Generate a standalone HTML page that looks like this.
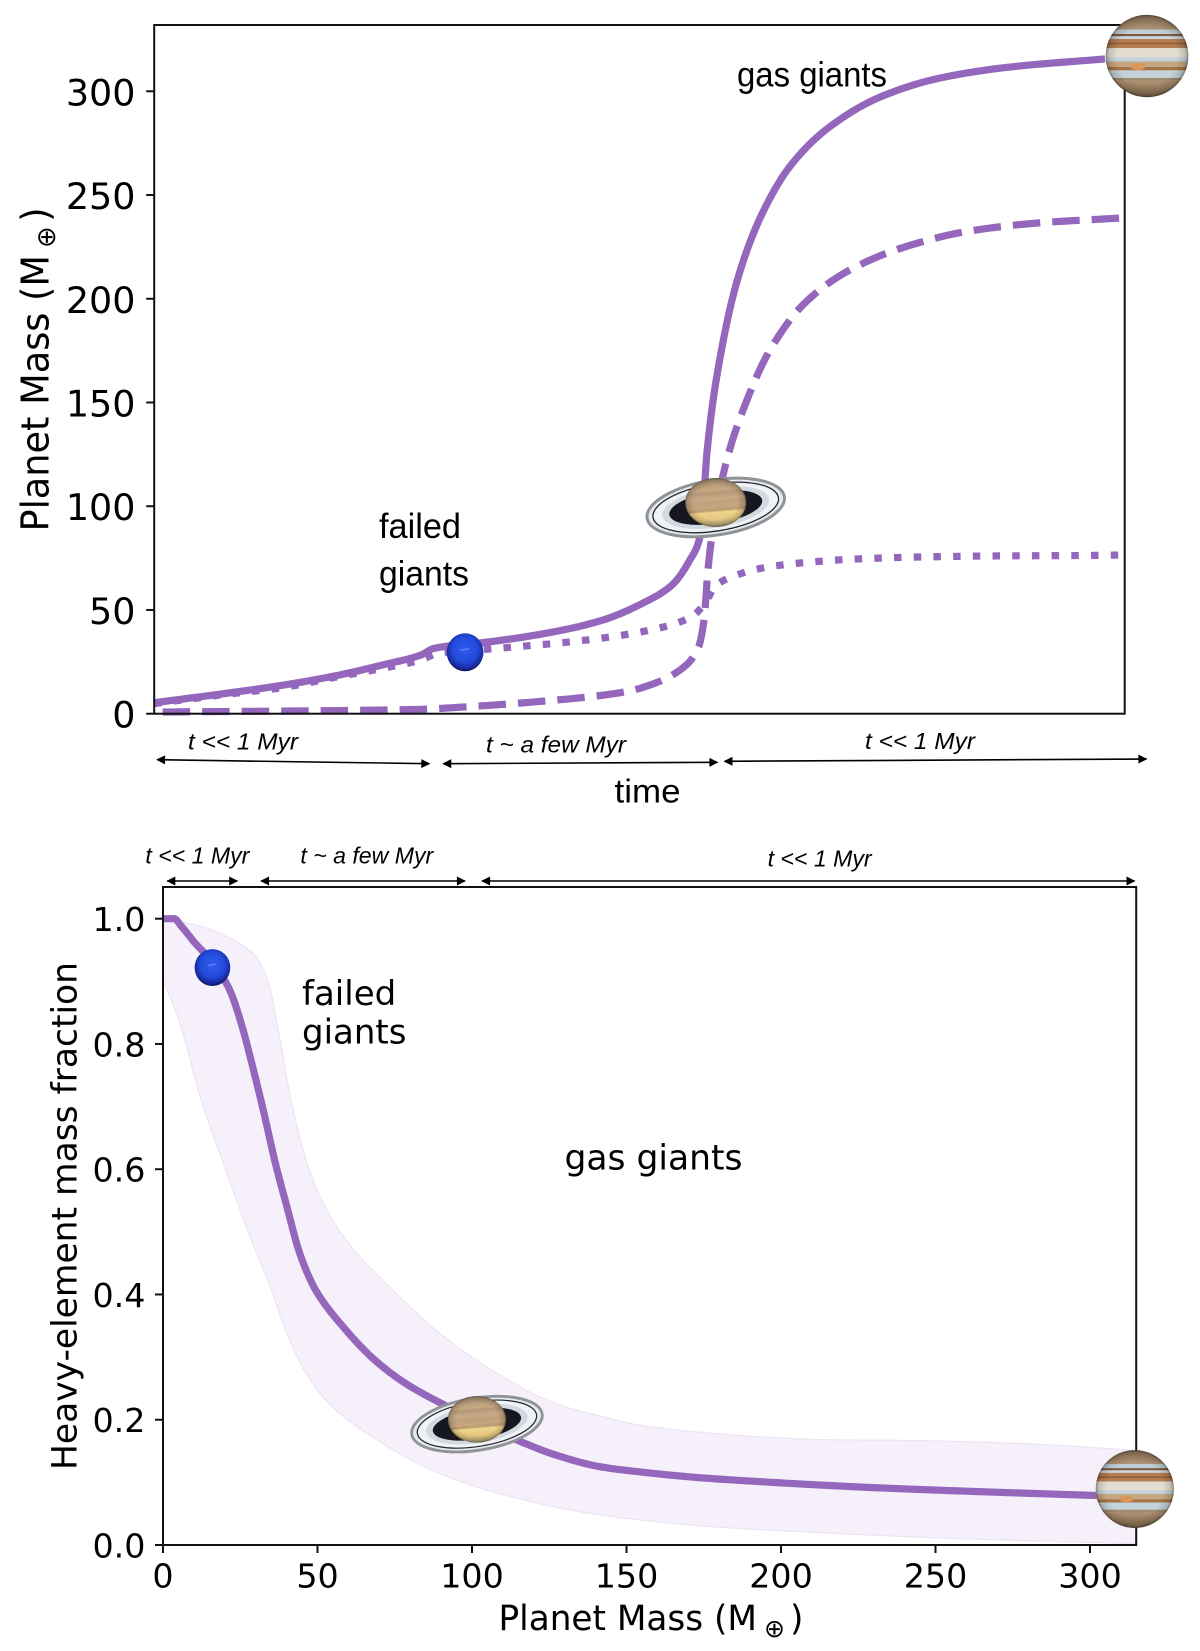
<!DOCTYPE html>
<html lang="en">
<head>
<meta charset="utf-8">
<title>Planet mass growth and heavy-element fraction</title>
<style>
html,body{margin:0;padding:0;background:#fff;}
body{width:1200px;height:1651px;overflow:hidden;}
svg{display:block;}
.dj{font-family:"DejaVu Sans",sans-serif;fill:#000;}
.lib{font-family:"Liberation Sans",sans-serif;fill:#000;}
.it{font-family:"Liberation Sans",sans-serif;font-style:italic;fill:#000;font-size:23px;}
</style>
</head>
<body>
<svg id="figure" xmlns="http://www.w3.org/2000/svg" width="1200" height="1651" viewBox="0 0 1200 1651">
  <defs>
    <marker id="ah" viewBox="0 0 10 10" refX="9" refY="5" markerUnits="userSpaceOnUse" markerWidth="10" markerHeight="9" orient="auto-start-reverse">
      <path d="M0 0L10 5L0 10Z" fill="#000"/>
    </marker>
    <clipPath id="clip-bottom"><rect x="163" y="887" width="973.2" height="658"/></clipPath>
    <radialGradient id="nep-grad" cx="50%" cy="42%" r="58%">
      <stop offset="0" stop-color="#2f5cf0"/>
      <stop offset="0.6" stop-color="#2349d8"/>
      <stop offset="0.88" stop-color="#16289a"/>
      <stop offset="1" stop-color="#0c1450"/>
    </radialGradient>
    <linearGradient id="sat-grad" x1="0" y1="0" x2="0" y2="1" gradientTransform="rotate(-6 0.5 0.5)">
      <stop offset="0" stop-color="#9c8a72"/>
      <stop offset="0.12" stop-color="#b69a78"/>
      <stop offset="0.24" stop-color="#c7a884"/>
      <stop offset="0.3" stop-color="#b59a78"/>
      <stop offset="0.42" stop-color="#c9aa88"/>
      <stop offset="0.5" stop-color="#bda07c"/>
      <stop offset="0.6" stop-color="#c8a67e"/>
      <stop offset="0.66" stop-color="#b89a70"/>
      <stop offset="0.7" stop-color="#efd48c"/>
      <stop offset="0.84" stop-color="#e4c680"/>
      <stop offset="1" stop-color="#a59870"/>
    </linearGradient>
    <radialGradient id="shade" cx="50%" cy="50%" r="50%">
      <stop offset="0.72" stop-color="#000" stop-opacity="0"/>
      <stop offset="0.93" stop-color="#000" stop-opacity="0.15"/>
      <stop offset="1" stop-color="#000" stop-opacity="0.42"/>
    </radialGradient>
    <linearGradient id="jup-base" x1="0" y1="0" x2="0" y2="1">
      <stop offset="0" stop-color="#8f7358"/>
      <stop offset="0.2" stop-color="#b39676"/>
      <stop offset="0.8" stop-color="#ad9070"/>
      <stop offset="1" stop-color="#7c644c"/>
    </linearGradient>
    <clipPath id="jup-clip"><ellipse cx="0" cy="0" rx="41.3" ry="41.2"/></clipPath>
    <g id="neptune-art">
      <ellipse cx="0" cy="0" rx="18.4" ry="19" fill="url(#nep-grad)"/>
      <path d="M-5 -2Q0 -3 4 -3.500" stroke="#6f90f0" stroke-width="1" fill="none"/>
    </g>
    <g id="saturn-art">
      <ellipse cx="0" cy="0" rx="69.500" ry="27.500" transform="rotate(-9)" fill="#e6eaee" stroke="#8f9398" stroke-width="3"/>
      <ellipse cx="0" cy="0" rx="63.500" ry="23.500" transform="rotate(-9)" fill="#f0f3f6" stroke="#23262d" stroke-width="1.300"/>
      <ellipse cx="0" cy="0" rx="54" ry="20" transform="rotate(-9)" fill="#d3d9e0"/>
      <ellipse cx="0" cy="0" rx="47" ry="16" transform="rotate(-9)" fill="#17171f"/>
      <ellipse cx="0" cy="-5" rx="30.500" ry="24.500" fill="url(#sat-grad)"/>
      <ellipse cx="0" cy="-5" rx="30.500" ry="24.500" fill="url(#shade)"/>
    </g>
    <g id="jupiter-art">
      <g clip-path="url(#jup-clip)">
        <rect x="-42" y="-42" width="84" height="84" fill="url(#jup-base)"/>
        <rect x="-42" y="-26.500" width="84" height="4.500" fill="#bfced6"/>
        <rect x="-42" y="-22" width="84" height="2.200" fill="#7d5b40"/>
        <rect x="-42" y="-19.800" width="84" height="2.800" fill="#cdd7db"/>
        <rect x="-42" y="-17" width="84" height="9" fill="#b47e50"/>
        <rect x="-42" y="-13.500" width="84" height="2" fill="#9a6238"/>
        <rect x="-42" y="-8" width="84" height="9.500" fill="#e3ddd1"/>
        <rect x="-42" y="1.500" width="84" height="4" fill="#c4d2dc"/>
        <rect x="-42" y="5.500" width="84" height="9" fill="#c6a680"/>
        <rect x="-42" y="11" width="84" height="3" fill="#a37448"/>
        <rect x="-42" y="14.500" width="84" height="7.500" fill="#c4d3db"/>
        <rect x="-42" y="22" width="84" height="2" fill="#a08a70"/>
        <ellipse cx="-9" cy="10.500" rx="7.500" ry="3.500" fill="#d9975a"/>
      </g>
      <ellipse cx="0" cy="0" rx="41.300" ry="41.200" fill="url(#shade)"/>
    </g>
  </defs>

  <g id="top-chart">
    <g id="top-series"></g>
    <rect x="154.200" y="25" width="970.500" height="688.700" fill="none" stroke="#111" stroke-width="2"/>
    <g id="top-ticks"></g>
    <g id="top-planets"></g>
    <text class="dj" font-size="38" transform="translate(48.500 531.500) rotate(-90)" textLength="276.500" lengthAdjust="spacingAndGlyphs">Planet Mass (M</text>
    <text class="dj" font-size="26" transform="translate(55 248) rotate(-90)">⊕</text>
    <text class="dj" font-size="38" transform="translate(48.500 222) rotate(-90)">)</text>
    <text class="lib" font-size="35" x="737" y="86.700" textLength="150" lengthAdjust="spacingAndGlyphs">gas giants</text>
    <text class="lib" font-size="35" x="379" y="538" textLength="82" lengthAdjust="spacingAndGlyphs">failed</text>
    <text class="lib" font-size="35" x="379" y="585.700" textLength="90" lengthAdjust="spacingAndGlyphs">giants</text>
    <text class="it" x="188" y="749.300" textLength="110" lengthAdjust="spacingAndGlyphs">t &lt;&lt; 1 Myr</text>
    <text class="it" x="486" y="752.300" textLength="140" lengthAdjust="spacingAndGlyphs">t ~ a few Myr</text>
    <text class="it" x="865" y="749" textLength="110" lengthAdjust="spacingAndGlyphs">t &lt;&lt; 1 Myr</text>
    <line x1="157" y1="759.700" x2="429.400" y2="763.700" stroke="#000" stroke-width="1.600" marker-start="url(#ah)" marker-end="url(#ah)"/>
    <line x1="443.200" y1="763.700" x2="717.500" y2="762.300" stroke="#000" stroke-width="1.600" marker-start="url(#ah)" marker-end="url(#ah)"/>
    <line x1="724.400" y1="761.300" x2="1146.500" y2="759" stroke="#000" stroke-width="1.600" marker-start="url(#ah)" marker-end="url(#ah)"/>
    <text class="lib" font-size="33" x="614.500" y="802.700" textLength="66" lengthAdjust="spacingAndGlyphs">time</text>
  </g>

  <g id="bottom-chart">
    <g id="bottom-series" clip-path="url(#clip-bottom)"></g>
    <rect x="163" y="887" width="973.200" height="658" fill="none" stroke="#111" stroke-width="2"/>
    <g id="bottom-ticks"></g>
    <g id="bottom-planets"></g>
    <text class="dj" font-size="34.500" transform="translate(76.500 1470) rotate(-90)" textLength="508" lengthAdjust="spacingAndGlyphs">Heavy-element mass fraction</text>
    <text class="dj" font-size="34.500" x="498.500" y="1630" textLength="258.500" lengthAdjust="spacingAndGlyphs">Planet Mass (M</text>
    <text class="dj" font-size="25" x="764" y="1637">⊕</text>
    <text class="dj" font-size="34.500" x="790" y="1630">)</text>
    <text class="dj" font-size="34" x="302" y="1005">failed</text>
    <text class="dj" font-size="34" x="302" y="1043.300">giants</text>
    <text class="dj" font-size="34.500" x="564.500" y="1169.300" textLength="178" lengthAdjust="spacingAndGlyphs">gas giants</text>
    <text class="it" x="145.400" y="863.300" font-size="22" textLength="104" lengthAdjust="spacingAndGlyphs">t &lt;&lt; 1 Myr</text>
    <text class="it" x="300.400" y="863.300" font-size="22" textLength="132.800" lengthAdjust="spacingAndGlyphs">t ~ a few Myr</text>
    <text class="it" x="767.600" y="866.700" font-size="22" textLength="104" lengthAdjust="spacingAndGlyphs">t &lt;&lt; 1 Myr</text>
    <line x1="167.200" y1="881" x2="237.300" y2="881" stroke="#000" stroke-width="1.600" marker-start="url(#ah)" marker-end="url(#ah)"/>
    <line x1="261" y1="881" x2="465" y2="881" stroke="#000" stroke-width="1.600" marker-start="url(#ah)" marker-end="url(#ah)"/>
    <line x1="482" y1="881" x2="1134.600" y2="881" stroke="#000" stroke-width="1.600" marker-start="url(#ah)" marker-end="url(#ah)"/>
  </g>
</svg>

<script>
// ---- Top chart data: time (percent of axis span) and planet mass (Earth masses)
const timeSolid = [0,7.38,13.34,18.81,23.54,27.49,28.83,33.78,39.32,45.93,50.57,53.35,55.2,56.24,56.75,56.96,58.51,60.15,62.63,65.62,69.64,74.79,80.97,88.19,97.97];
const massSolid = [5.3,9.8,13.8,18.4,23.5,28.3,31.5,34.2,37.9,44.7,53.8,62,74.1,85.3,112.6,126.1,176.7,210,240.9,264.5,283,297.2,306.4,311.7,315.6];
const timeDashed = [0.87,27.49,31.41,39.75,48.5,51.07,54.42,56.1,56.65,57.06,57.37,58.92,60.88,63.45,67.16,71.69,77.36,84.06,91.27,99.57];
const massDashed = [0.8,2.1,3.1,5.9,10.5,13.8,21.9,32.3,45.2,69.3,82.3,120.8,148.8,175.3,198.5,213.9,225,232.7,236.6,238.9];
const timeDotted = [0,7.38,13.27,18.81,23.54,27.49,29.24,35.37,41.3,45.93,51.46,55.39,56.96,57.76,59.53,63.48,67.43,71.57,77.67,85.76,99.73,100];
const massDotted = [4.9,9.3,12.6,17.7,21.9,25.9,29.1,31.5,33.9,36.3,40.7,46.8,54.8,61.2,66,70.9,73,74.4,75.4,76,76.5,76.6];
const topTickLabels = [0,50,100,150,200,250,300];
const topPlanetTimes = [32.03,57.86,102.3];
const topPlanetMasses = [29.6,99.4,317];

// ---- Bottom chart data: planet mass (Earth masses) and heavy-element fraction
const massCurve = [0,3.6,6.1,10.4,16,21.6,25.3,29,32.7,36.4,40.1,43.9,46.3,49.4,58.7,68.6,78.5,90.9,114.4,126.9,141.4,153.8,172.4,197.2,228.1,265.3,302.4];
const fracCurve = [1,1,0.987,0.961,0.931,0.886,0.833,0.764,0.689,0.609,0.54,0.471,0.439,0.407,0.346,0.295,0.258,0.224,0.168,0.144,0.125,0.117,0.108,0.1,0.092,0.085,0.079];
const massUpper = [0,5.5,12.9,21.6,30.2,33.9,37.7,41.4,46.3,51.3,61.8,71.1,89.6,108.2,126.9,141.4,153.7,178.6,215.7,240.4,277.7,315];
const fracUpper = [1,0.995,0.987,0.969,0.939,0.902,0.812,0.711,0.615,0.551,0.471,0.423,0.338,0.274,0.226,0.206,0.192,0.178,0.168,0.167,0.162,0.151];
const massLower = [0,5.5,11.7,19.1,29,33.9,40.1,46.3,53.7,71.1,89.6,108.2,141.4,178.6,215.7,252.9,315];
const fracLower = [0.902,0.833,0.721,0.615,0.482,0.423,0.338,0.274,0.226,0.162,0.114,0.083,0.048,0.029,0.019,0.011,0.002];
const bottomYTicks = [0,0.2,0.4,0.6,0.8,1];
const bottomYLabels = ["0.0","0.2","0.4","0.6","0.8","1.0"];
const bottomXTicks = [0,50,100,150,200,250,300];
const bottomPlanetMasses = [16,101.6,314.5];
const bottomPlanetFracs = [0.922,0.193,0.0894];

const NS = 'http://www.w3.org/2000/svg';
function make(tag, attrs, parent) {
  const el = document.createElementNS(NS, tag);
  for (const k in attrs) el.setAttribute(k, attrs[k]);
  parent.appendChild(el);
  return el;
}

// Axis functions
const topX = t => 154.2 + t * 9.705;
const topY = m => 713.7 - m * 2.0747;
const botX = m => 163 + m * 3.09;
const botY = f => 1545 - f * 626.3;

// Monotone cubic sampling in pixel space
function samplePoints(xs, ys) {
  const n = xs.length, d = [], m = [];
  for (let i = 0; i < n - 1; i++) d.push((ys[i + 1] - ys[i]) / (xs[i + 1] - xs[i]));
  m.push(d[0]);
  for (let i = 1; i < n - 1; i++) {
    if (d[i - 1] * d[i] <= 0) { m.push(0); continue; }
    const h0 = xs[i] - xs[i - 1], h1 = xs[i + 1] - xs[i];
    const w0 = 2 * h1 + h0, w1 = h1 + 2 * h0;
    m.push((w0 + w1) / (w0 / d[i - 1] + w1 / d[i]));
  }
  m.push(d[n - 2]);
  const out = [];
  for (let i = 0; i < n - 1; i++) {
    const h = xs[i + 1] - xs[i];
    for (let k = 0; k < 14; k++) {
      const s = k / 14, s2 = s * s, s3 = s2 * s;
      const y = (2 * s3 - 3 * s2 + 1) * ys[i] + (s3 - 2 * s2 + s) * h * m[i] +
                (-2 * s3 + 3 * s2) * ys[i + 1] + (s3 - s2) * h * m[i + 1];
      out.push([xs[i] + s * h, y]);
    }
  }
  out.push([xs[n - 1], ys[n - 1]]);
  return out;
}
function curvePts(xArr, yArr, fx, fy) {
  return samplePoints(xArr.map(fx), yArr.map(fy));
}
function toPath(pts) {
  return pts.map((p, i) => (i ? 'L' : 'M') + p[0].toFixed(2) + ' ' + p[1].toFixed(2)).join('');
}

const PURPLE = '#9467bd';
const LINE_W = 7.2;
const topSeries = document.getElementById('top-series');
const topTicks = document.getElementById('top-ticks');
const topPlanets = document.getElementById('top-planets');
const bottomSeries = document.getElementById('bottom-series');
const bottomTicks = document.getElementById('bottom-ticks');
const bottomPlanets = document.getElementById('bottom-planets');

// Top series
const dottedLine = make('path', {d: toPath(curvePts(timeDotted, massDotted, topX, topY)), fill: 'none', stroke: PURPLE, 'stroke-width': LINE_W, 'stroke-dasharray': '7.5 12.2'}, topSeries);



const dashedLine = make('path', {d: toPath(curvePts(timeDashed, massDashed, topX, topY)), fill: 'none', stroke: PURPLE, 'stroke-width': LINE_W, 'stroke-dasharray': '27.5 12'}, topSeries);



const solidLine = make('path', {d: toPath(curvePts(timeSolid, massSolid, topX, topY)), fill: 'none', stroke: PURPLE, 'stroke-width': LINE_W}, topSeries);



// Top ticks
topTickLabels.forEach(v => {
  const tick = make('line', {x1: 146.2, x2: 154.2, y1: topY(v), y2: topY(v), stroke: '#111', 'stroke-width': 2}, topTicks);
  
  
  const label = make('text', {x: 135.5, y: topY(v) + 14, 'text-anchor': 'end', 'font-size': 36.5, class: 'dj'}, topTicks);
  label.textContent = String(v);
  
  
});

// Planets
function placePlanet(parent, art, px, py, scale) {
  const use = make('use', {href: '#' + art, transform: 'translate(' + px + ' ' + py + ') scale(' + scale + ')'}, parent);
  return use;
}
const topNeptune = placePlanet(topPlanets, 'neptune-art', topX(topPlanetTimes[0]), topY(topPlanetMasses[0]), 1);


const topSaturn = placePlanet(topPlanets, 'saturn-art', topX(topPlanetTimes[1]), topY(topPlanetMasses[1]), 1);


const topJupiter = placePlanet(topPlanets, 'jupiter-art', topX(topPlanetTimes[2]), topY(topPlanetMasses[2]), 1);



// Bottom series
const upperPts = curvePts(massUpper, fracUpper, botX, botY);
const lowerPts = curvePts(massLower, fracLower, botX, botY);
const bandPath = toPath(upperPts) + toPath(lowerPts.slice().reverse()).replace('M', 'L') + 'Z';
const band = make('path', {d: bandPath, fill: '#f5f0f9', stroke: '#ece4f3', 'stroke-width': 1.2}, bottomSeries);



const fracLine = make('path', {d: toPath(curvePts(massCurve, fracCurve, botX, botY)), fill: 'none', stroke: PURPLE, 'stroke-width': LINE_W}, bottomSeries);



// Bottom ticks
bottomYTicks.forEach((v, i) => {
  const tick = make('line', {x1: 155, x2: 163, y1: botY(v), y2: botY(v), stroke: '#111', 'stroke-width': 2}, bottomTicks);
  
  
  const label = make('text', {x: 145.4, y: botY(v) + 12.5, 'text-anchor': 'end', 'font-size': 33.3, class: 'dj'}, bottomTicks);
  label.textContent = bottomYLabels[i];
  
  
});
bottomXTicks.forEach(v => {
  const tick = make('line', {x1: botX(v), x2: botX(v), y1: 1545, y2: 1553, stroke: '#111', 'stroke-width': 2}, bottomTicks);
  
  
  const label = make('text', {x: botX(v), y: 1587.3, 'text-anchor': 'middle', 'font-size': 33.3, class: 'dj'}, bottomTicks);
  label.textContent = String(v);
  
  
});

const botNeptune = placePlanet(bottomPlanets, 'neptune-art', botX(bottomPlanetMasses[0]), botY(bottomPlanetFracs[0]), 0.97);


const botSaturn = placePlanet(bottomPlanets, 'saturn-art', botX(bottomPlanetMasses[1]), botY(bottomPlanetFracs[1]), 0.95);


const botJupiter = placePlanet(bottomPlanets, 'jupiter-art', botX(bottomPlanetMasses[2]), botY(bottomPlanetFracs[2]), 0.945);


</script>
</body>
</html>
